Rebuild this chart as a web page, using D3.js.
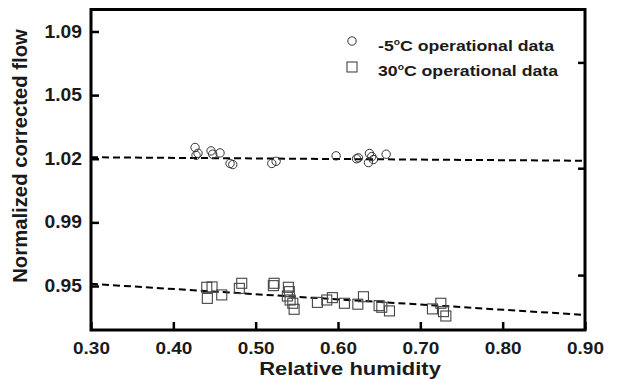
<!DOCTYPE html>
<html><head><meta charset="utf-8">
<script src="https://cdn.jsdelivr.net/npm/d3@7"></script>
<style>body{margin:0;background:#fff}svg{display:block}</style>
</head><body>
<svg id="c" width="619" height="379"></svg>
<script>
// Data
const coldX = [0.4264,0.4276,0.4300,0.4458,0.4478,0.4567,0.4689,0.4722,0.5196,0.5248,0.5977,0.6248,0.6225,0.6382,0.6370,0.6430,0.6410,0.6585];
const coldY = [1.0262,1.0219,1.0230,1.0243,1.0225,1.0232,1.0174,1.0168,1.0174,1.0186,1.0216,1.0205,1.0200,1.0229,1.0179,1.0196,1.0212,1.0225];
const warmX = [0.4406,0.4470,0.4413,0.4588,0.4831,0.4802,0.5224,0.5215,0.5397,0.5409,0.5385,0.5418,0.5451,0.5467,0.5750,0.5864,0.5932,0.6078,0.6241,0.6309,0.6499,0.6532,0.6625,0.7249,0.7147,0.7281,0.7310];
const warmY = [0.9493,0.9495,0.9432,0.9451,0.9515,0.9487,0.9515,0.9502,0.9493,0.9469,0.9445,0.9423,0.9405,0.9372,0.9410,0.9423,0.9436,0.9405,0.9400,0.9441,0.9392,0.9383,0.9363,0.9405,0.9374,0.9359,0.9335];
const coldFitX = [0.30, 0.90];
const coldFitY = [1.0208, 1.0189];
const warmFitX = [0.30, 0.90];
const warmFitY = [0.9512, 0.9341];
const xTicks = [0.30,0.40,0.50,0.60,0.70,0.80,0.90];
const xTickLabels = ["0.30","0.40","0.50","0.60","0.70","0.80","0.90"];
const yTicks = [0.95,0.985,1.02,1.055,1.09];
const yTickLabels = ["0.95","0.99","1.02","1.05","1.09"];
const rightTicks = [0.956,1.0148,1.073];
const legendLabels = ["-5","30"];

const svg = d3.select("#c");
const L=91,R=585,T=9.5,B=330;
const x = d3.scaleLinear().domain([0.30,0.90]).range([L,R]);
const y = d3.scaleLinear().domain([0.9258,1.1021]).range([B,T]);
const font = "'Liberation Sans', Arial, sans-serif";

// fit lines
const line = d3.line().x(d=>x(d[0])).y(d=>y(d[1]));
[[coldFitX,coldFitY],[warmFitX,warmFitY]].forEach(([fx,fy])=>{
  svg.append("path").attr("d", line(d3.zip(fx,fy)))
    .attr("fill","none").attr("stroke","#000").attr("stroke-width",2).attr("stroke-dasharray","7,4");
});

// markers
svg.append("g").selectAll("circle").data(d3.zip(coldX,coldY)).join("circle")
  .attr("cx",d=>x(d[0])).attr("cy",d=>y(d[1])).attr("r",4.2)
  .attr("fill","none").attr("stroke","#333").attr("stroke-width",1);
svg.append("g").selectAll("rect").data(d3.zip(warmX,warmY)).join("rect")
  .attr("x",d=>x(d[0])-5).attr("y",d=>y(d[1])-5).attr("width",10).attr("height",10)
  .attr("fill","none").attr("stroke","#444").attr("stroke-width",1.1);

// axes
const xa = svg.append("g").attr("transform",`translate(0,${B})`)
  .call(d3.axisBottom(x).tickValues(xTicks).tickFormat((d,i)=>xTickLabels[i]).tickSizeInner(-8).tickSizeOuter(0).tickPadding(12.5));
const ya = svg.append("g").attr("transform",`translate(${L},0)`)
  .call(d3.axisLeft(y).tickValues(yTicks).tickFormat((d,i)=>yTickLabels[i]).tickSizeInner(-8).tickSizeOuter(0).tickPadding(9));
const ra = svg.append("g").attr("transform",`translate(${R},0)`)
  .call(d3.axisRight(y).tickValues(rightTicks).tickFormat("").tickSizeInner(-7).tickSizeOuter(0));
[xa,ya,ra].forEach(g=>{
  g.select(".domain").remove();
  g.selectAll("line").attr("stroke","#000").attr("stroke-width",2.5);
  g.selectAll("text").attr("font-family",font).attr("font-weight","bold").attr("fill","#1a1a1a");
});
xa.selectAll("text").attr("font-size",16.5).attr("transform","scale(1.15,1)");
ya.selectAll("text").attr("font-size",17.5).attr("x",-9/1.1).attr("transform","scale(1.1,1)");

// frame
svg.append("rect").attr("x",L).attr("y",T).attr("width",R-L).attr("height",B-T)
  .attr("fill","none").attr("stroke","#000").attr("stroke-width",3);

// titles
svg.append("text").attr("transform","translate(350,374.5) scale(1.22,1)").attr("text-anchor","middle")
  .attr("font-family",font).attr("font-weight","bold").attr("font-size",18).attr("fill","#1a1a1a").text("Relative humidity");
svg.append("text").attr("transform","translate(27,156) rotate(-90)").attr("text-anchor","middle")
  .attr("font-family",font).attr("font-weight","bold").attr("font-size",20.3).attr("fill","#1a1a1a").text("Normalized corrected flow");

// legend
svg.append("circle").attr("cx",352).attr("cy",41).attr("r",4.2).attr("fill","none").attr("stroke","#333").attr("stroke-width",1);
svg.append("rect").attr("x",347).attr("y",62).attr("width",10).attr("height",10).attr("fill","none").attr("stroke","#444").attr("stroke-width",1.1);
legendLabels.forEach((lab,i)=>{
  const t = svg.append("text").attr("transform",`translate(378,${[51,76][i]}) scale(1.14,1)`).attr("font-family",font)
    .attr("font-weight","bold").attr("font-size",15.5).attr("fill","#1a1a1a");
  t.append("tspan").text(lab);
  t.append("tspan").attr("dy",-6).attr("font-size",9).text("o");
  t.append("tspan").attr("dy",6).text("C operational data");
});
</script>
</body></html>
